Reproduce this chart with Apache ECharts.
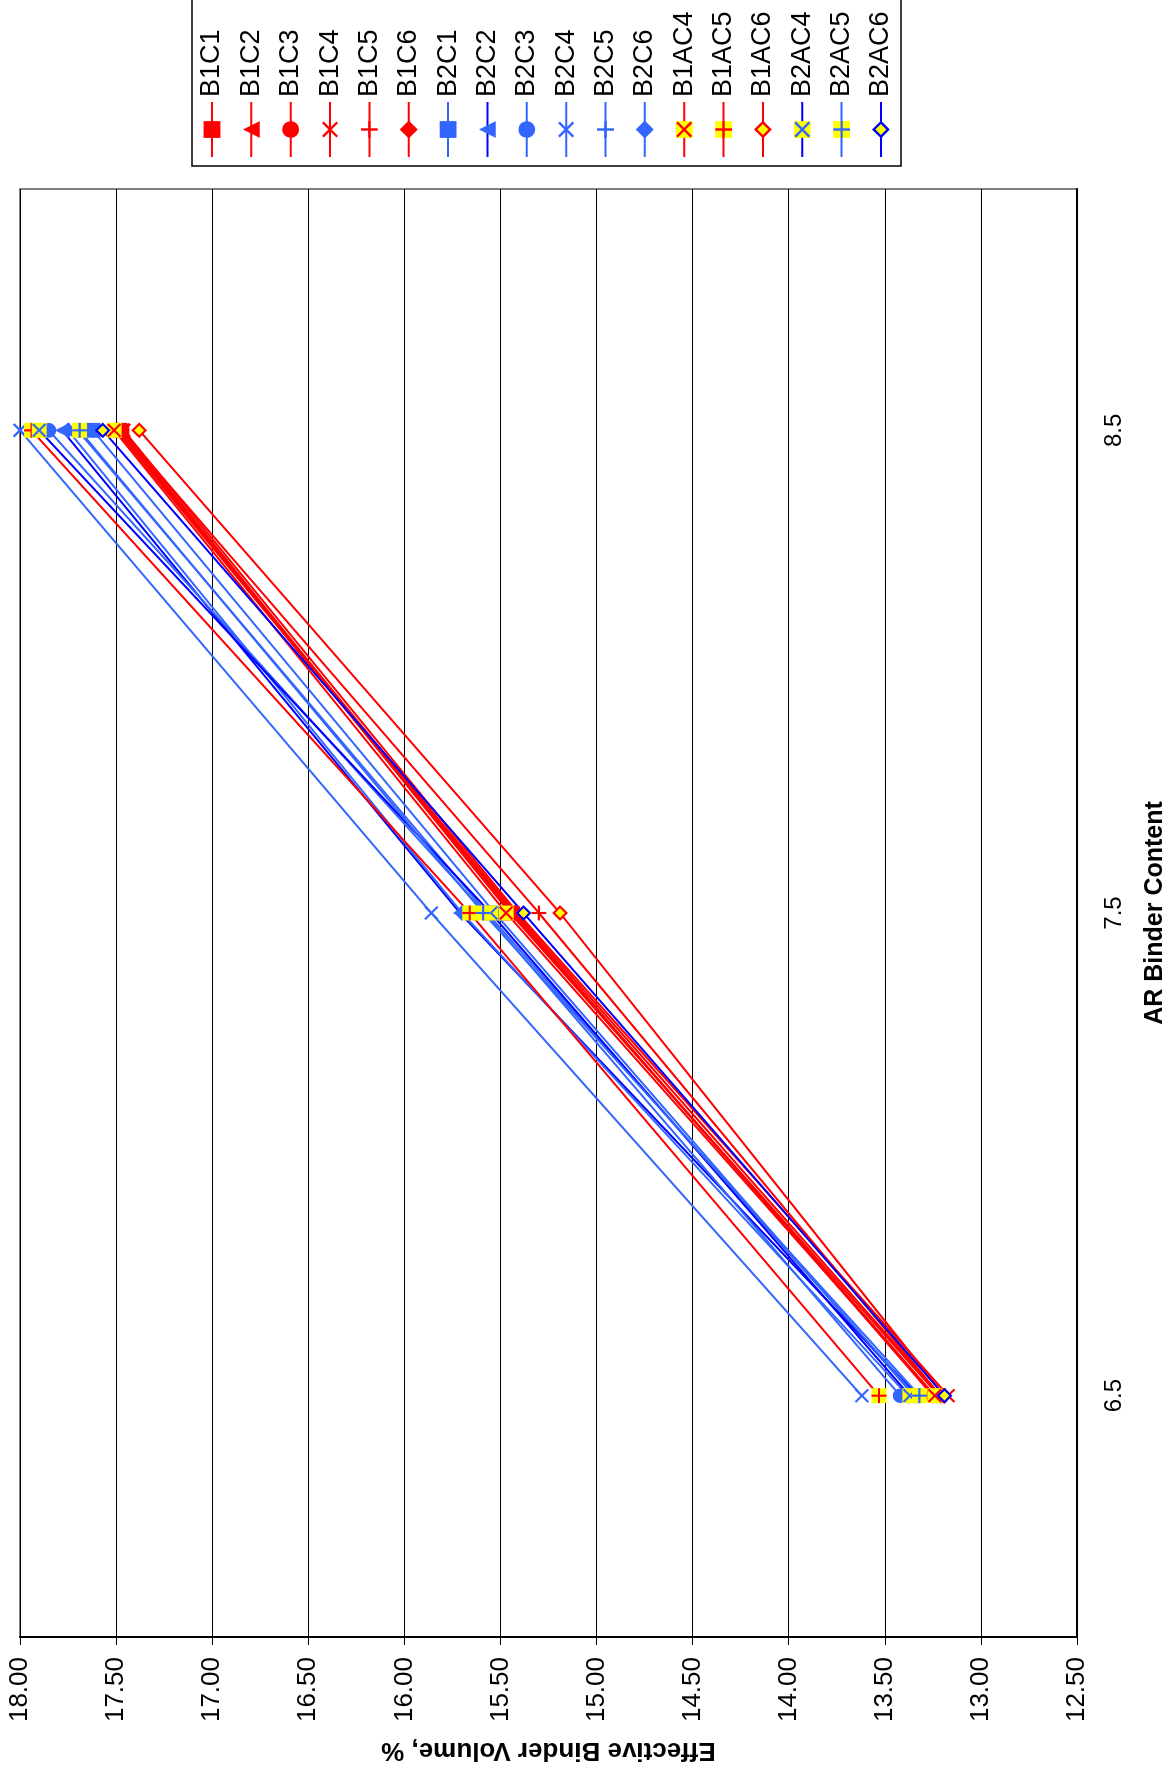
<!DOCTYPE html>
<html>
<head>
<meta charset="utf-8">
<script src="https://cdn.jsdelivr.net/npm/echarts@6/dist/echarts.min.js"></script>
<style>
  html, body { margin: 0; padding: 0; background: #fff; }
  #wrap { position: absolute; left: 0; top: 0; width: 1175px; height: 1771px; overflow: hidden; }
  /* the chart is drawn upright, then turned a quarter to the left like the original page */
  #main { position: absolute; left: 0; top: 0; width: 1771px; height: 1175px;
          transform-origin: 0 0; transform: translateY(1771px) rotate(-90deg); }
</style>
</head>
<body>
<div id="wrap"><div id="main"></div></div>
<script>
// AR binder content
const categories = ['6.5', '7.5', '8.5'];
const yTicks = [12.5, 18, 0.5]; // min, max, step

// effective binder volume, %
const B1C1 = [13.22, 15.45, 17.48];
const B1C2 = [13.24, 15.44, 17.47];
const B1C3 = [13.25, 15.43, 17.50];
const B1C4 = [13.17, 15.41, 17.46];
const B1C5 = [13.21, 15.30, 17.47];
const B1C6 = [13.21, 15.42, 17.49];
const B2C1 = [13.35, 15.53, 17.62];
const B2C2 = [13.33, 15.71, 17.78];
const B2C3 = [13.42, 15.58, 17.85];
const B2C4 = [13.62, 15.86, 18.00];
const B2C5 = [13.34, 15.57, 17.70];
const B2C6 = [13.38, 15.70, 17.75];
const B1AC4 = [13.24, 15.47, 17.51];
const B1AC5 = [13.53, 15.66, 17.94];
const B1AC6 = [13.19, 15.19, 17.38];
const B2AC4 = [13.37, 15.55, 17.90];
const B2AC5 = [13.32, 15.59, 17.69];
const B2AC6 = [13.19, 15.38, 17.57];

const RED = '#ff0000';
const BLUE = '#3366ff';
const DARK = '#0000ff';
const YEL = '#ffff00';

// marker pictures (svg)
function mark(shape, c) {
  let body = '';
  if (shape === 'square') body = '<rect x="1" y="1" width="14" height="14" fill="' + c + '"/>';
  if (shape === 'triangle') body = '<polygon points="8,1 15,15 1,15" fill="' + c + '"/>';
  if (shape === 'circle') body = '<circle cx="8" cy="8" r="7" fill="' + c + '"/>';
  if (shape === 'x') body = '<path d="M2,2L14,14M14,2L2,14" stroke="' + c + '" stroke-width="2"/>';
  if (shape === 'plus') body = '<path d="M8,1V15M1,8H15" stroke="' + c + '" stroke-width="2"/>';
  if (shape === 'diamond') body = '<polygon points="8,0.5 15.5,8 8,15.5 0.5,8" fill="' + c + '"/>';
  if (shape === 'sqx') body = '<rect x="1" y="1" width="14" height="14" fill="' + YEL + '"/><path d="M2,2L14,14M14,2L2,14" stroke="' + c + '" stroke-width="2"/>';
  if (shape === 'sqplus') body = '<rect x="1" y="1" width="14" height="14" fill="' + YEL + '"/><path d="M8,1V15M1,8H15" stroke="' + c + '" stroke-width="2"/>';
  if (shape === 'dia2') body = '<polygon points="8,2 14,8 8,14 2,8" fill="' + YEL + '" stroke="' + c + '" stroke-width="2"/>';
  let svg = '<svg xmlns="http://www.w3.org/2000/svg" width="16" height="16" viewBox="0 0 16 16">' + body + '</svg>';
  return 'image://data:image/svg+xml;charset=utf-8,' + encodeURIComponent(svg);
}

function line(name, data, lineColor, shape, markColor) {
  return {
    name: name,
    type: 'line',
    data: data,
    symbol: mark(shape, markColor || lineColor),
    symbolSize: 17,
    showAllSymbol: true,
    itemStyle: { color: lineColor },
    lineStyle: { color: lineColor, width: 2 }
  };
}

var myChart = echarts.init(document.getElementById('main'));

option = {
  animation: false,
  backgroundColor: '#fff',
  textStyle: { fontFamily: 'Liberation Sans, Arial, sans-serif', color: '#000' },
  grid: {
    left: 133,
    right: 189,
    top: 20,
    bottom: 98,
    show: true,
    borderColor: '#808080',
    borderWidth: 2
  },
  legend: {
    orient: 'vertical',
    left: 1605,
    top: 192,
    padding: [6.5, 28, 6.5, 8],
    itemWidth: 55,
    itemHeight: 24,
    itemGap: 12.35,
    borderColor: '#000',
    borderWidth: 1.5,
    selectedMode: false,
    textStyle: { fontSize: 27, color: '#000' },
    data: ['B1C1', 'B1C2', 'B1C3', 'B1C4', 'B1C5', 'B1C6', 'B2C1', 'B2C2', 'B2C3',
      'B2C4', 'B2C5', 'B2C6', 'B1AC4', 'B1AC5', 'B1AC6', 'B2AC4', 'B2AC5', 'B2AC6']
  },
  xAxis: {
    type: 'category',
    data: categories,
    boundaryGap: true,
    name: 'AR Binder Content',
    nameLocation: 'middle',
    nameGap: 66,
    nameTextStyle: { fontSize: 25, fontWeight: 'bold', color: '#000' },
    axisLine: { lineStyle: { color: '#000', width: 2 } },
    axisTick: { length: 8, lineStyle: { color: '#000' } },
    axisLabel: { fontSize: 24, color: '#000', margin: 25 },
    splitLine: { show: false }
  },
  yAxis: {
    type: 'value',
    min: yTicks[0],
    max: yTicks[1],
    interval: yTicks[2],
    name: 'Effective Binder Volume, %',
    nameLocation: 'middle',
    nameRotate: 90,
    nameGap: 100,
    nameTextStyle: { fontSize: 26, fontWeight: 'bold', color: '#000' },
    axisLine: { show: true, lineStyle: { color: '#000', width: 2 } },
    axisTick: { show: true, length: 8, lineStyle: { color: '#000' } },
    axisLabel: {
      fontSize: 26,
      color: '#000',
      margin: 20,
      formatter: function (v) { return v.toFixed(2); }
    },
    splitLine: { lineStyle: { color: '#000', width: 1 } }
  },
  series: [
    line('B1C1', B1C1, RED, 'square'),
    line('B1C2', B1C2, RED, 'triangle'),
    line('B1C3', B1C3, RED, 'circle'),
    line('B1C4', B1C4, RED, 'x'),
    line('B1C5', B1C5, RED, 'plus'),
    line('B1C6', B1C6, RED, 'diamond'),
    line('B2C1', B2C1, BLUE, 'square'),
    line('B2C2', B2C2, DARK, 'triangle', BLUE),
    line('B2C3', B2C3, BLUE, 'circle'),
    line('B2C4', B2C4, BLUE, 'x'),
    line('B2C5', B2C5, BLUE, 'plus'),
    line('B2C6', B2C6, BLUE, 'diamond'),
    line('B1AC4', B1AC4, RED, 'sqx'),
    line('B1AC5', B1AC5, RED, 'sqplus'),
    line('B1AC6', B1AC6, RED, 'dia2'),
    line('B2AC4', B2AC4, DARK, 'sqx', BLUE),
    line('B2AC5', B2AC5, BLUE, 'sqplus'),
    line('B2AC6', B2AC6, DARK, 'dia2')
  ]
};

myChart.setOption(option);
</script>
</body>
</html>
